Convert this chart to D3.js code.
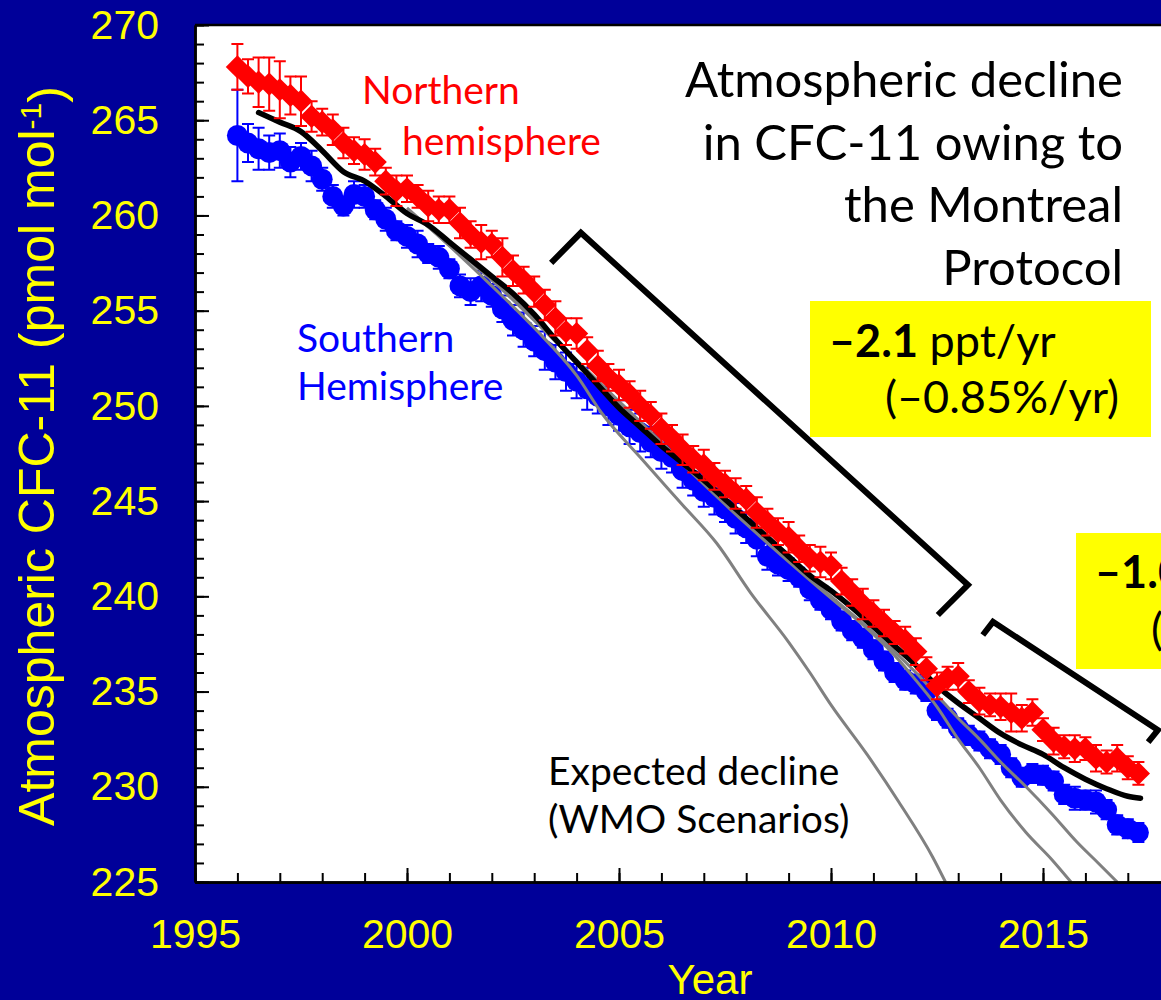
<!DOCTYPE html>
<html>
<head>
<meta charset="utf-8">
<script src="https://cdn.jsdelivr.net/npm/d3@7"></script>
<style>
  html, body { margin: 0; padding: 0; background: #000099; overflow: hidden; }
  svg { display: block; }
</style>
</head>
<body>
<svg id="chart" width="1161" height="1000"></svg>
<script>
// ---- Data -----------------------------------------------------------------
// Quarterly sampling of the hemispheric station means (decimal years)
const obsYears = [
  1996, 1996.25, 1996.5, 1996.75, 1997, 1997.25, 1997.5, 1997.75,
  1998, 1998.25, 1998.5, 1998.75, 1999, 1999.25, 1999.5, 1999.75,
  2000, 2000.25, 2000.5, 2000.75, 2001, 2001.25, 2001.5, 2001.75,
  2002, 2002.25, 2002.5, 2002.75, 2003, 2003.25, 2003.5, 2003.75,
  2004, 2004.25, 2004.5, 2004.75, 2005, 2005.25, 2005.5, 2005.75,
  2006, 2006.25, 2006.5, 2006.75, 2007, 2007.25, 2007.5, 2007.75,
  2008, 2008.25, 2008.5, 2008.75, 2009, 2009.25, 2009.5, 2009.75,
  2010, 2010.25, 2010.5, 2010.75, 2011, 2011.25, 2011.5, 2011.75,
  2012, 2012.25, 2012.5, 2012.75, 2013, 2013.25, 2013.5, 2013.75,
  2014, 2014.25, 2014.5, 2014.75, 2015, 2015.25, 2015.5, 2015.75,
  2016, 2016.25, 2016.5, 2016.75, 2017, 2017.25
];

// Northern hemisphere CFC-11 (pmol/mol)
const northValues = [
  267.8, 267.3, 267.0, 266.9, 266.6, 266.3, 266.0, 265.2,
  264.9, 264.5, 263.8, 263.4, 263.2, 262.8, 261.8, 261.3,
  261.4, 261.0, 260.5, 260.3, 260.3, 259.6, 259.0, 258.6,
  258.5, 257.8, 257.1, 256.6, 256.0, 255.3, 254.6, 253.9,
  253.8, 252.9, 252.1, 251.5, 251.1, 250.6, 250.0, 249.5,
  248.8, 248.3, 247.7, 247.2, 246.9, 246.3, 245.9, 245.4,
  245.1, 244.4, 243.9, 243.4, 243.1, 242.5, 242.0, 241.8,
  241.6, 240.8, 240.2, 239.6, 239.1, 238.6, 238.1, 237.7,
  237.1, 236.2, 235.3, 235.7, 235.8, 235.0, 234.5, 234.3,
  234.2, 233.9, 233.6, 233.9, 233.0, 232.4, 232.1, 232.0,
  232.0, 231.5, 231.3, 231.5, 231.0, 230.7
];
const northErrors = [
  1.2, 0.9, 1.3, 1.4, 1.5, 1.0, 1.3, 0.8,
  0.7, 0.8, 0.8, 0.7, 0.8, 0.7, 0.7, 0.8,
  0.7, 0.6, 0.8, 0.7, 0.7, 0.8, 0.7, 0.9,
  0.7, 1.0, 0.8, 0.7, 0.8, 0.8, 0.9, 0.7,
  0.8, 0.7, 0.8, 0.7, 0.8, 0.7, 0.8, 0.7,
  0.8, 0.7, 0.8, 0.7, 0.8, 0.7, 0.7, 0.8,
  0.7, 0.8, 0.7, 0.7, 0.8, 0.7, 0.7, 0.8,
  0.7, 0.7, 0.7, 0.8, 0.7, 0.7, 0.6, 0.7,
  0.7, 0.6, 0.7, 0.6, 0.7, 0.6, 0.7, 0.6,
  0.7, 1.0, 0.7, 0.7, 0.6, 0.7, 0.6, 0.7,
  0.6, 0.7, 0.6, 0.7, 0.6, 0.6
];

// Southern hemisphere CFC-11 (pmol/mol)
const southValues = [
  264.2, 263.8, 263.5, 263.3, 263.4, 262.8, 263.1, 262.6,
  261.9, 261.0, 260.5, 261.1, 261.0, 260.3, 259.8, 259.2,
  258.9, 258.5, 258.0, 257.8, 257.2, 256.3, 256.0, 256.3,
  255.8, 255.1, 254.5, 254.0, 253.4, 252.9, 252.3, 251.8,
  251.3, 250.9, 250.5, 250.0, 249.5, 248.9, 248.6, 248.1,
  247.6, 247.3, 246.6, 246.1, 245.5, 245.2, 244.6, 244.1,
  243.6, 243.0, 242.1, 241.7, 241.4, 241.0, 240.4, 239.8,
  239.3, 238.7, 238.2, 237.8, 237.2, 236.6, 236.0, 235.6,
  235.4, 235.0, 234.0, 233.6, 233.1, 232.7, 232.4, 232.0,
  231.7, 231.0, 230.5, 230.7, 230.6, 230.3, 229.6, 229.4,
  229.3, 229.2, 228.8, 228.0, 227.8, 227.6
];
const southErrors = [
  2.4, 1.0, 1.1, 0.9, 0.9, 0.8, 0.7, 0.8,
  0.6, 0.6, 0.5, 0.7, 0.6, 0.5, 0.6, 0.5,
  0.6, 0.7, 0.5, 0.6, 0.5, 0.6, 0.7, 0.8,
  0.6, 0.7, 0.8, 0.9, 0.8, 1.0, 0.9, 1.0,
  0.9, 1.1, 0.9, 1.0, 0.8, 0.9, 1.0, 0.8,
  0.9, 0.8, 0.9, 0.8, 0.8, 0.9, 0.7, 0.8,
  0.8, 0.9, 0.7, 0.6, 0.6, 0.5, 0.6, 0.5,
  0.5, 0.5, 0.5, 0.5, 0.5, 0.5, 0.5, 0.5,
  0.5, 0.5, 0.5, 0.5, 0.5, 0.5, 0.5, 0.5,
  0.5, 0.5, 0.5, 0.5, 0.5, 0.5, 0.5, 0.6,
  0.5, 0.6, 0.5, 0.5, 0.5, 0.5
];

// Global mean (12-month smoothed)
const globalYears = [
  1996.5, 1997, 1997.5, 1998, 1998.5, 1999, 1999.5, 2000, 2000.5, 2001,
  2001.5, 2002, 2002.5, 2003, 2003.5, 2004, 2004.5, 2005, 2005.5, 2006,
  2006.5, 2007, 2007.5, 2008, 2008.5, 2009, 2009.5, 2010, 2010.5, 2011,
  2011.5, 2012, 2012.5, 2013, 2013.5, 2014, 2014.5, 2015, 2015.5, 2016,
  2016.5, 2017, 2017.3
];
const globalValues = [
  265.4, 264.9, 264.4, 263.4, 262.3, 261.8, 261.0, 260.1, 259.5, 258.6,
  257.7, 256.8, 255.9, 254.8, 253.5, 252.3, 251.1, 249.9, 248.9, 247.9,
  247.0, 246.1, 245.1, 244.1, 243.1, 242.1, 241.1, 240.3, 239.4, 238.4,
  237.4, 236.4, 235.3, 234.4, 233.6, 232.8, 232.2, 231.7, 231.0, 230.4,
  229.9, 229.5, 229.4
];

// Expected decline under three WMO scenarios
const wmoAYears  = [2000, 2001, 2002, 2003, 2004, 2004.6, 2005.5, 2006.5, 2007.3, 2008.1, 2009, 2009.5, 2010, 2010.85, 2011.6, 2012.4, 2012.7];
const wmoAValues = [260.4, 258.4, 256.3, 254.1, 251.6, 249.6, 247.3, 244.8, 242.8, 240.2, 237.6, 236.0, 234.3, 231.7, 229.2, 226.3, 225.0];
const wmoBYears  = [2000, 2002, 2004, 2006, 2008, 2010, 2011, 2011.5, 2012, 2012.5, 2013, 2013.5, 2014, 2014.6, 2015.2, 2015.66];
const wmoBValues = [260.3, 256.6, 252.3, 248.0, 243.8, 239.9, 238.0, 236.9, 235.6, 234.2, 232.5, 231.0, 229.3, 227.6, 226.2, 225.0];
const wmoCYears  = [2000, 2002, 2004, 2006, 2008, 2010, 2011, 2011.5, 2012, 2012.5, 2013, 2013.5, 2014, 2014.6, 2015.2, 2015.8, 2016.3, 2016.75];
const wmoCValues = [260.3, 256.7, 252.4, 248.1, 243.9, 240.0, 238.1, 237.1, 236.0, 234.8, 233.6, 232.5, 231.3, 230.0, 228.6, 227.1, 226.0, 225.0];

// Trend-period brackets, corners in (year, pmol/mol)
const bracketEarlyYears  = [2003.40, 2004.10, 2013.23, 2012.52];
const bracketEarlyValues = [257.51, 259.09, 240.60, 239.02];
const bracketLateYears   = [2013.58, 2013.82, 2017.71, 2017.48];
const bracketLateValues  = [237.97, 238.66, 232.98, 232.35];

// Axes
const xMajorTicks = [1995, 2000, 2005, 2010, 2015];
const xMinorTicks = d3.range(1995, 2021, 1);
const yMajorTicks = [225, 230, 235, 240, 245, 250, 255, 260, 265, 270];
const yMinorTicks = d3.range(225, 271, 1);

// ---- Layout ---------------------------------------------------------------
const svg = d3.select("#chart");
const plot = { left: 195, top: 25, right: 1255, bottom: 882 };

const x = d3.scaleLinear().domain([1995, 2020]).range([plot.left, plot.right]);
const y = d3.scaleLinear().domain([225, 270]).range([plot.bottom, plot.top]);

const colors = {
  bg: "#000099", axisText: "#FFFF00", north: "#FF0000", south: "#0000FF",
  global: "#000000", wmo: "#808080", box: "#FFFF00"
};
const axisFont = "'Liberation Sans', Arial, sans-serif";
const noteFont = "Lato, 'Open Sans', sans-serif";

svg.append("rect").attr("width", 1161).attr("height", 1000).attr("fill", colors.bg);

svg.append("rect")
  .attr("x", plot.left).attr("y", plot.top)
  .attr("width", plot.right - plot.left).attr("height", plot.bottom - plot.top)
  .attr("fill", "#ffffff");

svg.append("clipPath").attr("id", "plot-clip")
  .append("rect")
  .attr("x", plot.left).attr("y", plot.top)
  .attr("width", plot.right - plot.left).attr("height", plot.bottom - plot.top);

const data = svg.append("g").attr("clip-path", "url(#plot-clip)");

// ---- Series ---------------------------------------------------------------
const north = obsYears.map((t, i) => ({ t, v: northValues[i], e: northErrors[i] }));
const south = obsYears.map((t, i) => ({ t, v: southValues[i], e: southErrors[i] }));

function errorBars(g, rows, color) {
  const eb = g.append("g").attr("stroke", color).attr("stroke-width", 2).attr("fill", "none");
  eb.selectAll("path").data(rows).join("path")
    .attr("d", d => {
      const cx = x(d.t), y0 = y(d.v - d.e), y1 = y(d.v + d.e);
      return `M${cx},${y0}V${y1}M${cx - 6},${y1}H${cx + 6}M${cx - 6},${y0}H${cx + 6}`;
    });
}

// Southern hemisphere: circles
errorBars(data, south, colors.south);
data.append("g").selectAll("circle").data(south).join("circle")
  .attr("cx", d => x(d.t)).attr("cy", d => y(d.v)).attr("r", 10.5)
  .attr("fill", colors.south);

// WMO scenario curves
const scenLine = d3.line().x(d => x(d[0])).y(d => y(d[1])).curve(d3.curveMonotoneX);
[[wmoAYears, wmoAValues], [wmoBYears, wmoBValues], [wmoCYears, wmoCValues]].forEach(([ys, vs]) => {
  data.append("path")
    .datum(ys.map((t, i) => [t, vs[i]]))
    .attr("d", scenLine)
    .attr("fill", "none").attr("stroke", colors.wmo).attr("stroke-width", 3);
});

// Global mean
data.append("path")
  .datum(globalYears.map((t, i) => [t, globalValues[i]]))
  .attr("d", scenLine)
  .attr("fill", "none").attr("stroke", colors.global).attr("stroke-width", 5.5)
  .attr("stroke-linecap", "round").attr("stroke-linejoin", "round");

// Northern hemisphere: diamonds
errorBars(data, north, colors.north);
const diamond = d3.symbol().type(d3.symbolSquare).size(270);
data.append("g").selectAll("path").data(north).join("path")
  .attr("d", diamond)
  .attr("transform", d => `translate(${x(d.t)},${y(d.v)}) rotate(45)`)
  .attr("fill", colors.north);

// ---- Axes -----------------------------------------------------------------
function styleAxis(g) {
  g.selectAll(".domain").attr("stroke", "#000").attr("stroke-width", 2.5);
  g.selectAll(".tick line").attr("stroke", "#000").attr("stroke-width", 2);
  g.selectAll(".tick text")
    .attr("fill", colors.axisText)
    .style("font-family", axisFont).style("font-size", "41px");
}

svg.append("g").attr("transform", `translate(0,${plot.bottom})`)
  .call(d3.axisBottom(x).tickValues(xMinorTicks).tickSize(-9).tickSizeOuter(0).tickFormat(""))
  .call(styleAxis);
svg.append("g").attr("transform", `translate(0,${plot.bottom})`)
  .call(d3.axisBottom(x).tickValues(xMajorTicks).tickSize(-14).tickSizeOuter(0)
    .tickPadding(37).tickFormat(d3.format("d")))
  .call(styleAxis);

svg.append("g").attr("transform", `translate(${plot.left},0)`)
  .call(d3.axisLeft(y).tickValues(yMinorTicks).tickSize(-9).tickSizeOuter(0).tickFormat(""))
  .call(styleAxis);
svg.append("g").attr("transform", `translate(${plot.left},0)`)
  .call(d3.axisLeft(y).tickValues(yMajorTicks).tickSize(-14).tickSizeOuter(0)
    .tickPadding(36).tickFormat(d3.format("d")))
  .call(styleAxis);

// top frame line
svg.append("line")
  .attr("x1", plot.left).attr("x2", plot.right)
  .attr("y1", plot.top).attr("y2", plot.top)
  .attr("stroke", "#000").attr("stroke-width", 2.5);

// Axis titles
const yTitle = svg.append("text")
  .attr("transform", `translate(54,456) rotate(-90)`)
  .attr("text-anchor", "middle")
  .attr("fill", colors.axisText)
  .style("font-family", axisFont).style("font-size", "50px");
yTitle.append("tspan").text("Atmospheric CFC-11 (pmol mol");
yTitle.append("tspan").attr("dy", "-0.45em").style("font-size", "30px").text("-1");
yTitle.append("tspan").attr("dy", "0.45em").text(")");

svg.append("text")
  .attr("x", 710).attr("y", 994)
  .attr("text-anchor", "middle")
  .attr("fill", colors.axisText)
  .style("font-family", axisFont).style("font-size", "42px")
  .text("Year");

// ---- Brackets -------------------------------------------------------------
const bracketLine = d3.line().x(d => x(d[0])).y(d => y(d[1]));
[[bracketEarlyYears, bracketEarlyValues], [bracketLateYears, bracketLateValues]].forEach(([ys, vs]) => {
  svg.append("path")
    .datum(ys.map((t, i) => [t, vs[i]]))
    .attr("d", bracketLine)
    .attr("fill", "none").attr("stroke", "#000").attr("stroke-width", 6)
    .attr("stroke-linejoin", "miter");
});

// ---- Annotations ----------------------------------------------------------
function note(xp, yp, txt, color, size, anchor) {
  return svg.append("text")
    .attr("x", xp).attr("y", yp)
    .attr("text-anchor", anchor || "start")
    .attr("fill", color)
    .style("font-family", noteFont).style("font-size", size + "px")
    .text(txt);
}

["Atmospheric decline", "in CFC-11 owing to", "the Montreal", "Protocol"].forEach((t, i) => {
  note(1123, 97 + i * 62.7, t, "#000", 49, "end");
});

note(362, 104, "Northern", colors.north, 39);
note(402, 155, "hemisphere", colors.north, 39);
note(297, 352, "Southern", colors.south, 39);
note(297, 400, "Hemisphere", colors.south, 39);
note(548, 785, "Expected decline", "#000", 39);
note(548, 833, "(WMO Scenarios)", "#000", 39);

// Rate boxes
function rateBox(bx, by, bw, bh, rate, pct, x1, y1, x2, y2) {
  svg.append("rect").attr("x", bx).attr("y", by).attr("width", bw).attr("height", bh)
    .attr("fill", colors.box);
  const t1 = note(x1, y1, "", "#000", 45);
  t1.append("tspan").style("font-weight", "bold").text("\u2013" + rate);
  t1.append("tspan").text(" ppt/yr");
  note(x2, y2, "(\u2013" + pct + "%/yr)", "#000", 45);
}
rateBox(810, 301, 341, 136, "2.1", "0.85", 829, 357, 885, 413);
rateBox(1076, 533, 341, 136, "1.0", "0.43", 1095, 588, 1151, 645);
</script>
</body>
</html>
